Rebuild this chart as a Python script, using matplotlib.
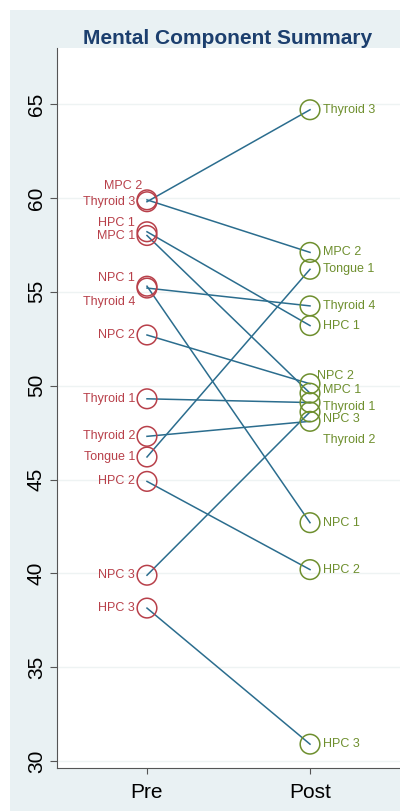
import numpy as np
import matplotlib.pyplot as plt
from matplotlib.patches import Rectangle

# data: each subject measured pre and post
subjects = ['MPC 2', 'Thyroid 3', 'HPC 1', 'MPC 1', 'NPC 1', 'Thyroid 4', 'NPC 2',
            'Thyroid 1', 'Thyroid 2', 'Tongue 1', 'HPC 2', 'NPC 3', 'HPC 3']
pre = [59.9, 59.8, 58.2, 58.0, 55.3, 55.2, 52.7, 49.3, 47.3, 46.2, 44.9, 39.9, 38.15]
post = [57.1, 64.7, 53.2, 49.6, 42.7, 54.25, 50.1, 49.1, 48.1, 56.2, 40.2, 48.6, 30.9]
yticks = [30, 35, 40, 45, 50, 55, 60, 65]
xlabels = ['Pre', 'Post']

# label offsets in pixels (dx, dy) where labels overlap
pre_off = {'MPC 2': (-5, 14), 'HPC 1': (-12, 9), 'NPC 1': (-12, 8), 'Thyroid 4': (-12, -14)}
post_off = {'NPC 2': (7, 8), 'MPC 1': (13, 3), 'Thyroid 1': (13, -4),
            'NPC 3': (13, -7), 'Thyroid 2': (13, -19)}

red = '#b8404a'
green = '#6e8f2e'
linecol = '#2b6d8e'

fig = plt.figure(figsize=(4, 8.11), dpi=100)
fig.patch.set_facecolor('white')
fig.patches.append(Rectangle((10/400, 0), 1, 801/811, transform=fig.transFigure,
                             facecolor='#e9f1f3', edgecolor='none', zorder=-10))

ax = fig.add_axes([57/400, 43/811, 343/400, 720/811])
ax.set_facecolor('white')

for i in range(len(subjects)):
    ax.plot([0, 1], [pre[i], post[i]], color=linecol, lw=1.1, zorder=2)

ax.scatter(np.zeros(len(pre)), pre, s=200, facecolors='none', edgecolors=red, linewidths=1.1, zorder=3)
ax.scatter(np.ones(len(post)), post, s=200, facecolors='none', edgecolors=green, linewidths=1.1, zorder=3)

for i, name in enumerate(subjects):
    dx, dy = pre_off.get(name, (-12, 0))
    ax.annotate(name, (0, pre[i]), xytext=(dx, dy), textcoords='offset pixels',
                ha='right', va='center', color=red, fontsize=9, family='Liberation Sans')
    dx, dy = post_off.get(name, (13, 0))
    ax.annotate(name, (1, post[i]), xytext=(dx, dy), textcoords='offset pixels',
                ha='left', va='center', color=green, fontsize=9, family='Liberation Sans')

ax.set_xlim(-0.552, 1.552)
ax.set_ylim(29.63, 67.99)
ax.set_yticks(yticks)
ax.set_yticklabels([str(t) for t in yticks], rotation=90, va='center',
                   fontsize=15, family='Liberation Sans')
ax.set_xticks([0, 1])
ax.set_xticklabels(xlabels, fontsize=15, family='Liberation Sans')
ax.tick_params(axis='y', length=5, color='#555555', pad=3)
ax.tick_params(axis='x', length=4, color='#555555', pad=7)
ax.grid(axis='y', color='#eef3f3', lw=1)
ax.set_axisbelow(True)

for s in ['top', 'right']:
    ax.spines[s].set_visible(False)
ax.spines['left'].set_color('#555555')
ax.spines['bottom'].set_color('#555555')

fig.text(227.5/400, 1 - 38/811, 'Mental Component Summary', ha='center', va='center',
         fontsize=15, fontweight='bold', color='#1c3f6e', family='Liberation Sans')

plt.savefig('out.png', dpi=100)
